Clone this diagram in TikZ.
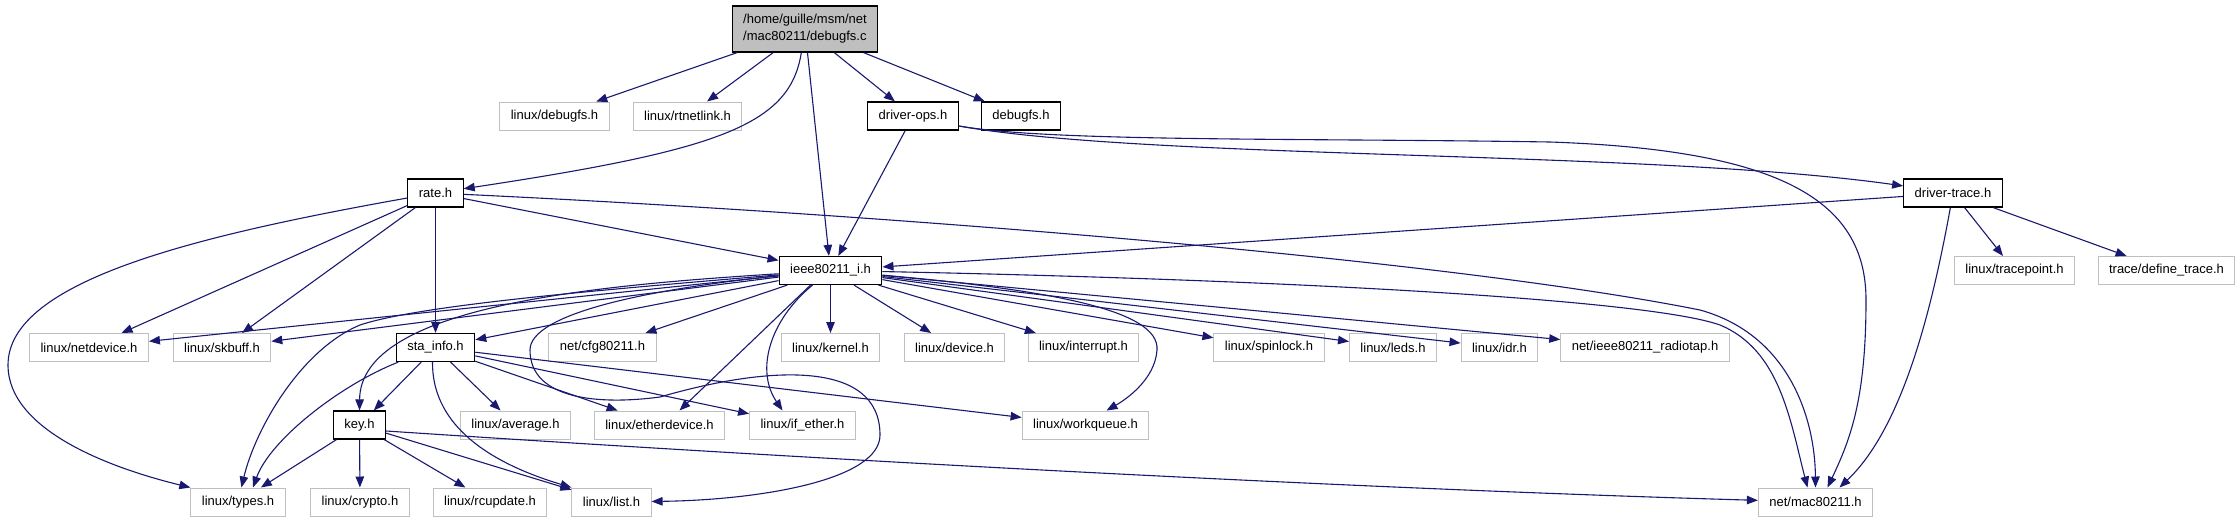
\documentclass[tikz,border=0pt]{standalone}
\usepackage{fontspec}
\setmainfont{Liberation Sans}
\usetikzlibrary{arrows.meta}
\definecolor{edgeblue}{RGB}{25,25,112}
\definecolor{boxgrey}{RGB}{191,191,191}
\tikzset{
  filebox/.style={draw=boxgrey, line width=1pt, minimum height=28pt, inner xsep=11pt, inner ysep=2pt,
    font=\fontsize{13pt}{17pt}\selectfont},
  docbox/.style={filebox, draw=black, line width=1.2pt},
  srcbox/.style={docbox, fill=boxgrey, minimum height=46pt, align=left},
  incl/.style={draw=edgeblue, line width=1.1pt, -{Triangle[length=11pt,width=8.5pt]}}
}
% row heights (px, downwards)
\def\yA{29}
\def\yB{116}
\def\yC{193}
\def\yD{270.5}
\def\yE{347.5}
\def\yF{425}
\def\yG{502}

\begin{document}
\begin{tikzpicture}[x=1pt,y=-1pt]
  \useasboundingbox (0,0) rectangle (2240,523);

  % =======================
  % Files
  % =======================
  \node[srcbox] (main) at (805,\yA) {/home/guille/msm/net\\/mac80211/debugfs.c};

  \node[filebox] (ldebugfs) at (554.5,\yB) {linux/debugfs.h};
  \node[filebox] (rtnetlink) at (687.5,\yB) {linux/rtnetlink.h};
  \node[docbox] (drvops) at (913,\yB) {driver-ops.h};
  \node[docbox] (dbgfs) at (1021,\yB) {debugfs.h};

  \node[docbox] (rate) at (435.5,\yC) {rate.h};
  \node[docbox] (drvtrace) at (1953,\yC) {driver-trace.h};

  \node[docbox] (ieee) at (830.5,\yD) {ieee80211\_i.h};
  \node[filebox] (tracepoint) at (2014.5,\yD) {linux/tracepoint.h};
  \node[filebox] (definetrace) at (2166.5,\yD) {trace/define\_trace.h};

  \node[filebox] (netdevice) at (89,\yE) {linux/netdevice.h};
  \node[filebox] (skbuff) at (222,\yE) {linux/skbuff.h};
  \node[docbox] (stainfo) at (435.5,\yE) {sta\_info.h};
  \node[filebox] (cfg) at (602.5,\yE) {net/cfg80211.h};
  \node[filebox] (kernel) at (830.5,\yE) {linux/kernel.h};
  \node[filebox] (device) at (954.5,\yE) {linux/device.h};
  \node[filebox] (interrupt) at (1083.5,\yE) {linux/interrupt.h};
  \node[filebox] (spinlock) at (1269,\yE) {linux/spinlock.h};
  \node[filebox] (leds) at (1393,\yE) {linux/leds.h};
  \node[filebox] (idr) at (1499.5,\yE) {linux/idr.h};
  \node[filebox] (radiotap) at (1645,\yE) {net/ieee80211\_radiotap.h};

  \node[docbox] (keyh) at (359.5,\yF) {key.h};
  \node[filebox] (average) at (515.5,\yF) {linux/average.h};
  \node[filebox] (etherdev) at (659.5,\yF) {linux/etherdevice.h};
  \node[filebox] (ifether) at (802.5,\yF) {linux/if\_ether.h};
  \node[filebox] (workqueue) at (1085.5,\yF) {linux/workqueue.h};

  \node[filebox] (types) at (238,\yG) {linux/types.h};
  \node[filebox] (crypto) at (360,\yG) {linux/crypto.h};
  \node[filebox] (rcupdate) at (490,\yG) {linux/rcupdate.h};
  \node[filebox] (list) at (611.5,\yG) {linux/list.h};
  \node[filebox] (mac) at (1815.5,\yG) {net/mac80211.h};

  % bends of the long routed edges
  \coordinate (rateleft) at (8,365);
  \coordinate (opsflat) at (1550,142);
  \coordinate (opsdown) at (1866,300);

  % =======================
  % debugfs.c
  % =======================
  \draw[incl] (main) -- (ldebugfs);
  \draw[incl] (main) -- (rtnetlink);
  \draw[incl] (main) -- (drvops);
  \draw[incl] (main) -- (dbgfs);
  \draw[incl] (main) -- (ieee);
  \draw[incl] (main) .. controls (790,125) and (720,150) .. (rate);

  % =======================
  % driver-ops.h, driver-trace.h
  % =======================
  \draw[incl] (drvops) -- (ieee);
  \draw[incl] ([yshift=-10pt]drvops.east) .. controls (1150,160) and (1650,150) .. (drvtrace);
  \draw[incl] ([yshift=-10pt]drvops.east) .. controls (1050,142) and (1300,138) .. (opsflat)
    .. controls (1780,150) and (1866,200) .. (opsdown)
    .. controls (1866,400) and (1850,440) .. ([xshift=12pt]mac.north);
  \draw[incl] (drvtrace) -- (ieee);
  \draw[incl] (drvtrace) -- (tracepoint);
  \draw[incl] (drvtrace) -- (definetrace);
  \draw[incl] (drvtrace) .. controls (1930,320) and (1900,430) .. ([xshift=24pt]mac.north);

  % =======================
  % rate.h
  % =======================
  \draw[incl] (rate) -- (netdevice);
  \draw[incl] (rate) -- (skbuff);
  \draw[incl] (rate) -- (stainfo);
  \draw[incl] (rate) -- (ieee);
  \draw[incl] ([yshift=-5pt]rate.west) .. controls (200,235) and (8,280) .. (rateleft)
    .. controls (8,430) and (110,468) .. (types.north west);
  \draw[incl] (rate) .. controls (900,215) and (1450,260) .. (1700,310)
    .. controls (1790,335) and (1815,420) .. (mac.north);

  % =======================
  % ieee80211_i.h
  % =======================
  \draw[incl] (ieee) -- (netdevice);
  \draw[incl] (ieee) -- (skbuff);
  \draw[incl] (ieee) -- (stainfo);
  \draw[incl] (ieee) -- (cfg);
  \draw[incl] (ieee) -- (kernel);
  \draw[incl] (ieee) -- (device);
  \draw[incl] (ieee) -- (interrupt);
  \draw[incl] (ieee) -- (spinlock);
  \draw[incl] (ieee) -- (leds);
  \draw[incl] (ieee) -- (idr);
  \draw[incl] (ieee) -- (radiotap);
  \draw[incl] ([xshift=-20pt]ieee.south) -- ([xshift=20pt]etherdev.north);
  \draw[incl] ([xshift=-18pt]ieee.south) .. controls (770,320) and (755,370) .. ([xshift=-20pt]ifether.north);
  \draw[incl] (ieee) .. controls (600,285) and (360,305) .. (keyh);
  \draw[incl] (ieee) .. controls (600,290) and (420,305) .. (360,325)
    .. controls (300,350) and (255,430) .. (types);
  \draw[incl] (ieee) .. controls (640,290) and (530,315) .. (530,350)
    .. controls (530,400) and (600,405) .. (660,397)
    .. controls (770,365) and (880,360) .. (880,435)
    .. controls (880,480) and (760,500) .. (list);
  \draw[incl] (ieee) .. controls (1050,290) and (1160,310) .. (1157,350)
    .. controls (1155,380) and (1125,400) .. ([xshift=21pt]workqueue.north);
  \draw[incl] (ieee) .. controls (1300,280) and (1650,300) .. (1720,325)
    .. controls (1780,350) and (1790,420) .. ([xshift=-8pt]mac.north);

  % =======================
  % sta_info.h, key.h
  % =======================
  \draw[incl] (stainfo) -- (keyh);
  \draw[incl] (stainfo) -- (average);
  \draw[incl] (stainfo) -- (etherdev);
  \draw[incl] (stainfo) -- (ifether);
  \draw[incl] (stainfo) -- (workqueue);
  \draw[incl] (stainfo) .. controls (340,385) and (270,440) .. ([xshift=15pt]types.north);
  \draw[incl] ([xshift=-3pt]stainfo.south) .. controls (432,420) and (480,460) .. (list.north west);
  \draw[incl] (keyh) -- (types);
  \draw[incl] (keyh) -- (crypto);
  \draw[incl] (keyh) -- (rcupdate);
  \draw[incl] (keyh) -- (list);
  \draw[incl] ([yshift=-6pt]keyh.east) .. controls (900,465) and (1400,490) .. (mac);

\end{tikzpicture}
\end{document}
